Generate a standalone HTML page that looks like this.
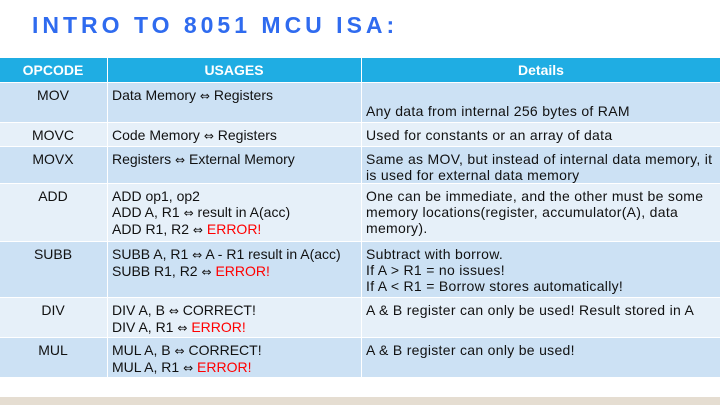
<!DOCTYPE html>
<html><head><meta charset="utf-8"><style>
*{margin:0;padding:0;box-sizing:border-box}
body{width:720px;height:405px;background:#fff;position:relative;overflow:hidden;font-family:"Liberation Sans","DejaVu Sans",sans-serif;}
.title{position:absolute;left:32px;top:12px;font-size:23px;font-weight:bold;color:#2f6bef;letter-spacing:4px;}
.r{position:absolute;left:0;width:720px;}
.c{position:absolute;top:0;bottom:0;font-size:14px;color:#111;line-height:16px;padding-top:4px;white-space:nowrap;}
.c1{left:0;width:106px;text-align:center;}
.c2{left:107px;width:253px;padding-left:4px;border-left:1px solid #fff;}
.c3{left:361px;width:359px;padding-left:4px;border-left:1px solid #fff;letter-spacing:0.3px}
.d{background:#cce1f4;}.l{background:#e6f0f9;}
.h{background:#1fade3;top:58px;height:24px;}
.h .c{color:#fff;font-weight:bold;text-align:center;padding-top:4px;padding-left:0;font-size:14px;letter-spacing:0}
.e{color:#f00}
.a{font-family:"DejaVu Sans",sans-serif;font-size:12px}
.sep{border-top:1px solid #fff}
</style></head><body>
<div class="title">INTRO TO 8051 MCU ISA:</div>
<div class="r h"><div class="c c1">OPCODE</div><div class="c c2">USAGES</div><div class="c c3">Details</div></div>
<div class="r d sep" style="top:82px;height:40px"><div class="c c1">MOV</div><div class="c c2">Data Memory <span class="a">⇔</span> Registers</div><div class="c c3" style="padding-top:20px">Any data from internal 256 bytes of RAM</div></div>
<div class="r l sep" style="top:122px;height:24px"><div class="c c1">MOVC</div><div class="c c2">Code Memory <span class="a">⇔</span> Registers</div><div class="c c3">Used for constants or an array of data</div></div>
<div class="r d sep" style="top:146px;height:37px"><div class="c c1">MOVX</div><div class="c c2">Registers <span class="a">⇔</span> External Memory</div><div class="c c3">Same as MOV, but instead of internal data memory, it<br>is used for external data memory</div></div>
<div class="r l sep" style="top:183px;height:58px"><div class="c c1">ADD</div><div class="c c2">ADD op1, op2<br>ADD A, R1 <span class="a">⇔</span> result in A(acc)<br>ADD R1, R2 <span class="a">⇔</span> <span class="e">ERROR!</span></div><div class="c c3">One can be immediate, and the other must be some<br>memory locations(register, accumulator(A), data<br>memory).</div></div>
<div class="r d sep" style="top:241px;height:56px"><div class="c c1">SUBB</div><div class="c c2">SUBB A, R1 <span class="a">⇔</span> A - R1 result in A(acc)<br>SUBB R1, R2 <span class="a">⇔</span> <span class="e">ERROR!</span></div><div class="c c3">Subtract with borrow.<br>If A &gt; R1 = no issues!<br>If A &lt; R1 = Borrow stores automatically!</div></div>
<div class="r l sep" style="top:297px;height:40px"><div class="c c1">DIV</div><div class="c c2">DIV A, B <span class="a">⇔</span> CORRECT!<br>DIV A, R1 <span class="a">⇔</span> <span class="e">ERROR!</span></div><div class="c c3">A &amp; B register can only be used! Result stored in A</div></div>
<div class="r d sep" style="top:337px;height:40px"><div class="c c1">MUL</div><div class="c c2">MUL A, B <span class="a">⇔</span> CORRECT!<br>MUL A, R1 <span class="a">⇔</span> <span class="e">ERROR!</span></div><div class="c c3">A &amp; B register can only be used!</div></div>
<div class="r" style="top:397px;height:8px;background:#e5ddd1"></div>
</body></html>
